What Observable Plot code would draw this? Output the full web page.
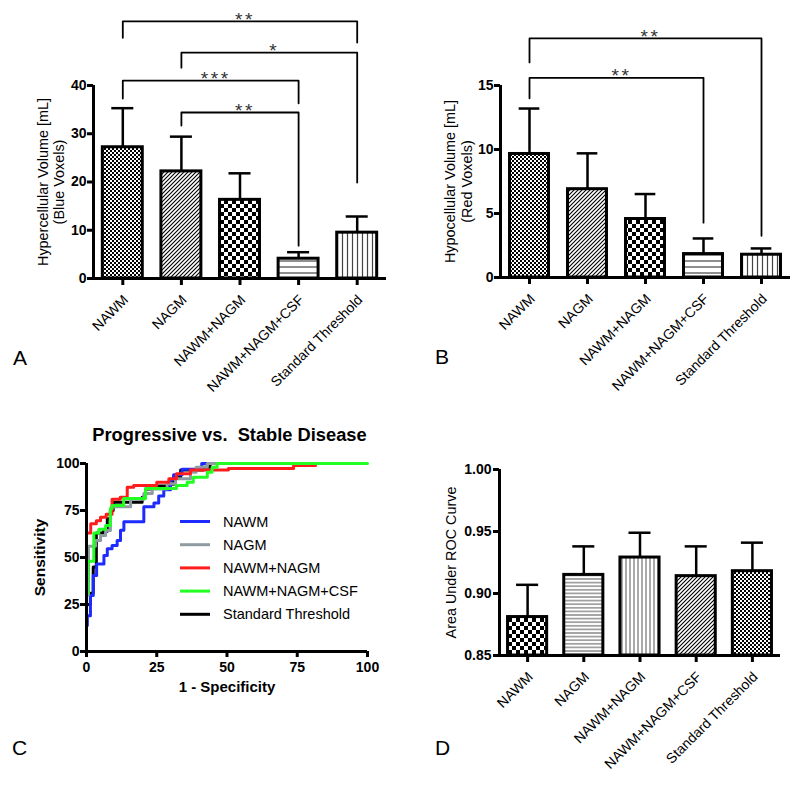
<!DOCTYPE html>
<html><head><meta charset="utf-8">
<script src="https://cdn.jsdelivr.net/npm/d3@7"></script>
<script src="https://cdn.jsdelivr.net/npm/@observablehq/plot@0.6"></script>
<style>
body{margin:0;background:#fff;}
#root{position:relative;width:800px;height:795px;font-family:"Liberation Sans",Arial,sans-serif;background:#fff;overflow:hidden;}
.panel{position:absolute;}
.panel svg{overflow:visible;}
#overlay{position:absolute;left:0;top:0;pointer-events:none;}
</style></head>
<body>
<svg width="0" height="0" style="position:absolute">
<defs>
<pattern id="fineCheck" width="4" height="4" patternUnits="userSpaceOnUse">
  <rect width="4" height="4" fill="#fff"/>
  <rect width="2" height="2" fill="#000"/>
  <rect x="2" y="2" width="2" height="2" fill="#000"/>
</pattern>
<pattern id="coarseCheck" width="8" height="8" patternUnits="userSpaceOnUse">
  <rect width="8" height="8" fill="#fff"/>
  <rect width="4" height="4" fill="#000"/>
  <rect x="4" y="4" width="4" height="4" fill="#000"/>
</pattern>
<pattern id="diag" width="4" height="4" patternUnits="userSpaceOnUse">
  <rect width="4" height="4" fill="#fff"/>
  <path d="M-1,1 L1,-1 M0,4 L4,0 M3,5 L5,3" stroke="#000" stroke-width="1.1"/>
</pattern>
<pattern id="hlinesA" width="6" height="6" patternUnits="userSpaceOnUse">
  <rect width="6" height="6" fill="#fff"/>
  <line x1="0" x2="6" y1="3" y2="3" stroke="#444" stroke-width="1.2"/>
</pattern>
<pattern id="vlinesA" width="5" height="5" patternUnits="userSpaceOnUse">
  <rect width="5" height="5" fill="#fff"/>
  <line x1="2.5" x2="2.5" y1="0" y2="5" stroke="#444" stroke-width="1.2"/>
</pattern>
<pattern id="hlinesD" width="4" height="3.6" patternUnits="userSpaceOnUse">
  <rect width="4" height="3.6" fill="#fff"/>
  <line x1="0" x2="4" y1="1.8" y2="1.8" stroke="#555" stroke-width="1"/>
</pattern>
<pattern id="vlinesD" width="4" height="4" patternUnits="userSpaceOnUse">
  <rect width="4" height="4" fill="#fff"/>
  <line x1="2" x2="2" y1="0" y2="4" stroke="#555" stroke-width="1"/>
</pattern>
</defs>
</svg>
<div id="root"></div>
<script>
// ---------- data ----------
const categories = ["NAWM", "NAGM", "NAWM+NAGM", "NAWM+NAGM+CSF", "Standard Threshold"];

// Panel A: hypercellular volume (blue voxels), mL
const hyperMean  = [27.2, 22.2, 16.3, 4.1, 9.5];
const hyperUpper = [35.3, 29.4, 21.8, 5.45, 12.85];
const hyperTicks = [0, 10, 20, 30, 40];
const hyperBrackets = [
  {from: 0, to: 4, level: 53.3, leftEnd: 49.9, rightEnd: 48.9, label: "**"},
  {from: 1, to: 4, level: 46.8, leftEnd: 43.7, rightEnd: 19.9, label: "*"},
  {from: 0, to: 3, level: 41.0, leftEnd: 37.3, rightEnd: 36.3, label: "***"},
  {from: 1, to: 3, level: 34.4, leftEnd: 31.7, rightEnd: 6.8, label: "**"}
];

// Panel B: hypocellular volume (red voxels), mL
const hypoMean  = [9.65, 6.9, 4.57, 1.83, 1.78];
const hypoUpper = [13.2, 9.7, 6.52, 3.05, 2.27];
const hypoTicks = [0, 5, 10, 15];
const hypoBrackets = [
  {from: 0, to: 4, level: 18.68, leftEnd: 16.8, rightEnd: 3.26, label: "**"},
  {from: 0, to: 3, level: 15.6, leftEnd: 14.0, rightEnd: 4.28, label: "**"}
];

// Panel C: ROC curves (1 - specificity, sensitivity), step points
const rocSeries = ["NAWM", "NAGM", "NAWM+NAGM", "NAWM+NAGM+CSF", "Standard Threshold"];
const rocNAWM_fpr = [0.2, 0.3, 1.4, 2.4, 3.6, 6.2, 7.4, 9.1, 10.9, 12.1, 13.3, 20.4, 24, 25.7, 27.5, 29.9, 31, 34, 41, 47];
const rocNAWM_tpr = [13.8, 19, 29.8, 40.4, 46.6, 51, 54.6, 56.4, 59, 64.5, 69, 77, 79, 82.7, 86, 91.4, 94, 97, 100, 100];
const rocNAGM_fpr = [0, 0.7, 3.2, 5, 6.8, 8.5, 9, 15.7, 20.4, 23.4, 28.7, 31.7, 37, 39, 43, 46];
const rocNAGM_tpr = [30, 56, 59, 61.7, 64.4, 75, 77, 81, 84, 86.5, 89.2, 91.9, 95.4, 98, 100, 100];
const rocWMGM_fpr = [0, 1.5, 3.5, 5, 7, 9.1, 12, 14.5, 16.8, 25, 29.3, 32, 37, 50.5, 73.7, 81.5];
const rocWMGM_tpr = [63, 68, 69.5, 71.4, 73, 81, 82, 87.4, 88.3, 90, 91.9, 94.5, 96.5, 97.3, 98.9, 98.9];
const rocCSF_fpr = [0, 0.5, 2.6, 4.4, 6.8, 8.5, 9.1, 13.2, 21, 32, 35.8, 38, 43, 44.7, 46.5, 100];
const rocCSF_tpr = [31, 48, 63, 65, 67, 76, 77.7, 81.4, 86.7, 88.3, 90, 92.7, 95.4, 98, 100, 100];
const rocStd_fpr = [0, 1.4, 2.4, 3.5, 6, 7.4, 8.5, 9.5, 19.8, 21, 22.8, 29.3, 31, 33.5, 41.6, 44, 47];
const rocStd_tpr = [25, 31, 45, 63, 64, 70.6, 75, 79.4, 82, 86.5, 88, 89, 93, 96.5, 98, 100, 100];
const rocTicks = [0, 25, 50, 75, 100];

// Panel D: area under ROC curve
const aucMean  = [0.881, 0.915, 0.929, 0.914, 0.918];
const aucUpper = [0.907, 0.938, 0.949, 0.938, 0.941];
const aucTicks = [0.85, 0.90, 0.95, 1.00];

// ---------- styles ----------
const fillsAB = ["url(#fineCheck)", "url(#diag)", "url(#coarseCheck)", "url(#hlinesA)", "url(#vlinesA)"];
const fillsD  = ["url(#coarseCheck)", "url(#hlinesD)", "url(#vlinesD)", "url(#diag)", "url(#fineCheck)"];
const rocColors = ["#1d2bff", "#8e9ba1", "#ff1c1c", "#22ff22", "#000000"];
const FONT = "Liberation Sans, Arial, Helvetica, sans-serif";

const root = document.getElementById("root");
function place(node, left, top) {
  const div = document.createElement("div");
  div.className = "panel";
  div.style.left = left + "px";
  div.style.top = top + "px";
  div.appendChild(node);
  root.appendChild(div);
}
function shiftXLabels(svg, sx, sy) {
  d3.select(svg).selectAll("g").filter(function() {
    return (this.getAttribute("aria-label") || "").startsWith("x-axis tick label");
  }).each(function() {
    const t = this.getAttribute("transform") || "";
    this.setAttribute("transform", t + ` translate(${sx},${sy})`);
  });
}
// bold y tick labels drawn as text marks
function yTickLabels(ticks, fmt, dx) {
  return Plot.text(ticks, {y: d => d, text: d => fmt(d), frameAnchor: "left", textAnchor: "end", lineAnchor: "middle", dx, fontWeight: "bold", fontSize: 14});
}

function barPanel(o) {
  const data = categories.map((c, i) => ({i, c, v: o.means[i], u: o.uppers[i]}));
  const y0 = o.yDomain[0];
  const marks = [];
  data.forEach((d, i) => {
    marks.push(Plot.rect([d], {
      x1: e => e.i - o.barHalf, x2: e => e.i + o.barHalf, y1: y0, y2: "v",
      fill: o.fills[i], stroke: "black", strokeWidth: 3
    }));
  });
  marks.push(Plot.ruleX(data, {x: "i", y1: "v", y2: "u", stroke: "black", strokeWidth: 2.5}));
  marks.push(Plot.ruleY(data, {y: "u", x1: d => d.i - o.capHalf, x2: d => d.i + o.capHalf, stroke: "black", strokeWidth: 2.5}));
  if (o.brackets) {
    const pts = o.brackets.flatMap((b, k) => [
      {k, x: b.from, y: b.leftEnd}, {k, x: b.from, y: b.level},
      {k, x: b.to, y: b.level}, {k, x: b.to, y: b.rightEnd}
    ]);
    marks.push(Plot.line(pts, {x: "x", y: "y", z: "k", stroke: "black", strokeWidth: 1.8}));
    marks.push(Plot.text(o.brackets, {x: b => (b.from + b.to) / 2, y: "level", text: "label", dx: 5, dy: -1.5, fontSize: 19, fill: "#333"}));
  }
  marks.push(Plot.ruleY([y0], {stroke: "black", strokeWidth: 3}));
  marks.push(Plot.ruleX([-0.5], {stroke: "black", strokeWidth: 3}));
  marks.push(Plot.axisY({ticks: o.yTicks, tickFormat: () => "", tickSize: 6, strokeWidth: 3, label: null}));
  marks.push(yTickLabels(o.yTicks, o.tickFormat, o.tickDx));
  marks.push(Plot.axisX({ticks: [0, 1, 2, 3, 4], tickFormat: i => categories[i], tickRotate: -45, tickSize: 7, tickPadding: 4, strokeWidth: 3, fontSize: 14, label: null}));
  marks.push(Plot.text([o.ylabel], {text: d => d, frameAnchor: "left", textAnchor: "middle", lineAnchor: "middle", rotate: -90, dx: o.ylabelDx, fontSize: 14.4, lineHeight: 1.15}));
  const svg = Plot.plot({
    width: 400, height: o.height,
    marginLeft: o.marginLeft, marginRight: o.marginRight, marginTop: o.marginTop, marginBottom: o.marginBottom,
    x: {domain: [-0.5, 4.5]},
    y: {domain: o.yDomain},
    style: {fontFamily: FONT, fontSize: "14px", background: "transparent", color: "black"},
    marks
  });
  shiftXLabels(svg, 3, 8);
  d3.select(svg).selectAll("text").filter(function() { return /^\*+$/.test(this.textContent); })
    .style("letter-spacing", "2.5px");
  return svg;
}

// Panel A
place(barPanel({
  height: 400, marginLeft: 93, marginRight: 14, marginTop: 85, marginBottom: 122,
  yDomain: [0, 40], yTicks: hyperTicks, tickFormat: d => String(d), tickDx: -7,
  means: hyperMean, uppers: hyperUpper, fills: fillsAB, brackets: hyperBrackets,
  barHalf: 0.341, capHalf: 0.188,
  ylabel: "Hypercellular Volume [mL]\n(Blue Voxels)", ylabelDx: -43
}), 0, 0);

// Panel B
place(barPanel({
  height: 400, marginLeft: 100, marginRight: 10, marginTop: 85, marginBottom: 123,
  yDomain: [0, 15], yTicks: hypoTicks, tickFormat: d => String(d), tickDx: -7,
  means: hypoMean, uppers: hypoUpper, fills: fillsAB, brackets: hypoBrackets,
  barHalf: 0.336, capHalf: 0.178,
  ylabel: "Hypocellular Volume [mL]\n(Red Voxels)", ylabelDx: -42.5
}), 400, 0);

// Panel D
place(barPanel({
  height: 405, marginLeft: 99, marginRight: 20, marginTop: 79, marginBottom: 140,
  yDomain: [0.85, 1.0], yTicks: aucTicks, tickFormat: d3.format(".2f"), tickDx: -8,
  means: aucMean, uppers: aucUpper, fills: fillsD, brackets: null,
  barHalf: 0.348, capHalf: 0.196,
  ylabel: "Area Under ROC Curve", ylabelDx: -49
}), 400, 390);

// Panel C
const rocData = [
  [rocNAWM_fpr, rocNAWM_tpr], [rocNAGM_fpr, rocNAGM_tpr], [rocWMGM_fpr, rocWMGM_tpr],
  [rocCSF_fpr, rocCSF_tpr], [rocStd_fpr, rocStd_tpr]
].map(([xs, ys], s) => xs.map((x, j) => ({s, x, y: ys[j]})));
const drawOrder = [4, 0, 1, 2, 3];
const cPlot = Plot.plot({
  width: 400, height: 405,
  marginLeft: 86, marginRight: 33, marginTop: 73, marginBottom: 144,
  x: {domain: [0, 100]},
  y: {domain: [0, 100]},
  style: {fontFamily: FONT, fontSize: "14px", background: "transparent", color: "black"},
  marks: [
    ...drawOrder.map(s => Plot.line(rocData[s], {x: "x", y: "y", curve: "step-after", stroke: rocColors[s], strokeWidth: 3})),
    Plot.ruleX([0], {stroke: "black", strokeWidth: 3}),
    Plot.ruleY([0], {stroke: "black", strokeWidth: 3}),
    Plot.axisX({ticks: rocTicks, tickFormat: () => "", tickSize: 6, strokeWidth: 3, label: null}),
    Plot.axisY({ticks: rocTicks, tickFormat: () => "", tickSize: 6, strokeWidth: 3, label: null}),
    Plot.text(rocTicks, {x: d => d, text: d => String(d), frameAnchor: "bottom", textAnchor: "middle", lineAnchor: "middle", dy: 16, fontWeight: "bold", fontSize: 14}),
    yTickLabels(rocTicks, d => String(d), -7),
    Plot.text(["1 - Specificity"], {text: d => d, frameAnchor: "bottom", textAnchor: "middle", lineAnchor: "middle", dy: 36, fontWeight: "bold", fontSize: 15}),
    Plot.text(["Sensitivity"], {text: d => d, frameAnchor: "left", textAnchor: "middle", lineAnchor: "middle", rotate: -90, dx: -46, fontWeight: "bold", fontSize: 15.5}),
    Plot.text(["Progressive vs.  Stable Disease"], {text: d => d, frameAnchor: "top", textAnchor: "middle", lineAnchor: "middle", dx: 2.5, dy: -28, fontWeight: "bold", fontSize: 18.3})
  ]
});
d3.select(cPlot).selectAll("text").filter(function() { return this.textContent.startsWith("Progressive"); }).style("white-space", "pre");
place(cPlot, 0, 390);

// Overlay: panel letters and the ROC legend
const ov = d3.select(root).append("svg").attr("id", "overlay").attr("width", 800).attr("height", 795)
  .style("font-family", FONT);
const letters = [
  {t: "A", x: 13, y: 365}, {t: "B", x: 435, y: 364},
  {t: "C", x: 12, y: 755}, {t: "D", x: 435, y: 755}
];
ov.selectAll("text.letter").data(letters).join("text").attr("class", "letter")
  .attr("x", d => d.x).attr("y", d => d.y).attr("font-size", 21).text(d => d.t);
const leg = ov.append("g").attr("transform", "translate(180,521.5)");
const rows = leg.selectAll("g").data(rocSeries).join("g").attr("transform", (d, i) => `translate(0,${i * 23.2})`);
rows.append("line").attr("x1", 0).attr("x2", 30).attr("stroke", (d, i) => rocColors[i]).attr("stroke-width", 3);
rows.append("text").attr("x", 43).attr("dy", "0.35em").attr("font-size", 14.5).text(d => d);
</script>
</body></html>
